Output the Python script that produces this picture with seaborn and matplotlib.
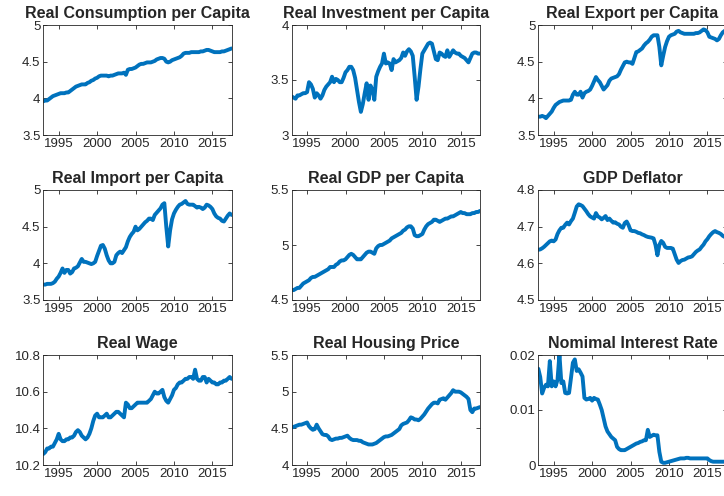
import numpy as np
import pandas as pd
import seaborn as sns
import matplotlib.pyplot as plt
from matplotlib.ticker import FuncFormatter

# quarterly observations, 1993Q1 .. 2017Q3
dates = 1993.0 + 0.25 * np.arange(99)

consumption = [
    3.96, 3.97, 3.97, 3.99, 4.01, 4.03, 4.04, 4.05, 4.06, 4.07, 4.07, 4.07,
    4.08, 4.08, 4.10, 4.12, 4.14, 4.16, 4.17, 4.18, 4.19, 4.19, 4.19, 4.21,
    4.22, 4.24, 4.25, 4.27, 4.28, 4.30, 4.31, 4.31, 4.31, 4.31, 4.30, 4.31,
    4.31, 4.32, 4.33, 4.34, 4.34, 4.34, 4.35, 4.32, 4.39, 4.40, 4.40, 4.41,
    4.42, 4.44, 4.46, 4.47, 4.47, 4.48, 4.49, 4.49, 4.49, 4.50, 4.51, 4.53,
    4.54, 4.55, 4.55, 4.54, 4.50, 4.49, 4.50, 4.52, 4.53, 4.54, 4.55, 4.56,
    4.58, 4.61, 4.62, 4.62, 4.62, 4.63, 4.63, 4.63, 4.63, 4.63, 4.64, 4.64,
    4.65, 4.66, 4.66, 4.65, 4.64, 4.63, 4.63, 4.63, 4.63, 4.64, 4.64, 4.65,
    4.66, 4.67, 4.68,
]
investment = [
    3.35, 3.34, 3.33, 3.36, 3.36, 3.37, 3.38, 3.38, 3.39, 3.48, 3.46, 3.42,
    3.34, 3.38, 3.36, 3.33, 3.36, 3.41, 3.44, 3.46, 3.48, 3.53, 3.48, 3.51,
    3.50, 3.48, 3.48, 3.52, 3.57, 3.59, 3.62, 3.62, 3.59, 3.52, 3.41, 3.30,
    3.21, 3.28, 3.38, 3.47, 3.32, 3.45, 3.41, 3.32, 3.53, 3.58, 3.62, 3.65,
    3.74, 3.65, 3.66, 3.65, 3.59, 3.69, 3.66, 3.67, 3.68, 3.70, 3.75, 3.72,
    3.76, 3.78, 3.76, 3.72, 3.53, 3.32, 3.44, 3.60, 3.74, 3.77, 3.80, 3.83,
    3.84, 3.83, 3.76, 3.69, 3.68, 3.75, 3.74, 3.72, 3.71, 3.77, 3.71, 3.74,
    3.77, 3.75, 3.74, 3.74, 3.72, 3.71, 3.70, 3.68, 3.66, 3.70, 3.74, 3.75,
    3.75, 3.74, 3.74,
]
export = [
    3.75, 3.75, 3.76, 3.75, 3.73, 3.76, 3.79, 3.82, 3.87, 3.91, 3.93, 3.95,
    3.96, 3.97, 3.97, 3.97, 3.97, 3.98, 4.05, 4.09, 4.05, 4.05, 4.09, 4.01,
    4.07, 4.09, 4.10, 4.12, 4.17, 4.23, 4.29, 4.25, 4.22, 4.17, 4.12, 4.15,
    4.18, 4.24, 4.27, 4.28, 4.29, 4.30, 4.33, 4.39, 4.44, 4.49, 4.50, 4.49,
    4.49, 4.47, 4.55, 4.63, 4.64, 4.66, 4.68, 4.72, 4.75, 4.77, 4.80, 4.84,
    4.86, 4.86, 4.86, 4.70, 4.45, 4.58, 4.70, 4.78, 4.84, 4.86, 4.87, 4.88,
    4.91, 4.92, 4.90, 4.89, 4.88, 4.88, 4.88, 4.88, 4.88, 4.88, 4.89, 4.89,
    4.90, 4.92, 4.94, 4.93, 4.90, 4.84, 4.83, 4.82, 4.81, 4.79, 4.81, 4.86,
    4.90, 4.92, 4.94,
]
imports = [
    3.71, 3.71, 3.72, 3.72, 3.72, 3.73, 3.75, 3.79, 3.82, 3.87, 3.93, 3.87,
    3.91, 3.91, 3.86, 3.88, 3.93, 3.94, 3.96, 4.01, 4.06, 4.02, 4.02, 4.01,
    4.00, 3.99, 4.00, 4.02, 4.10, 4.17, 4.24, 4.25, 4.20, 4.11, 4.04, 4.00,
    4.00, 4.02, 4.11, 4.14, 4.16, 4.14, 4.18, 4.22, 4.30, 4.36, 4.40, 4.43,
    4.50, 4.45, 4.47, 4.50, 4.53, 4.56, 4.58, 4.61, 4.61, 4.59, 4.66, 4.69,
    4.72, 4.75, 4.80, 4.82, 4.50, 4.23, 4.45, 4.60, 4.68, 4.73, 4.77, 4.80,
    4.81, 4.83, 4.85, 4.81, 4.80, 4.80, 4.80, 4.78, 4.76, 4.77, 4.76, 4.74,
    4.76, 4.80, 4.79, 4.77, 4.74, 4.68, 4.64, 4.62, 4.61, 4.58, 4.57, 4.61,
    4.65, 4.68, 4.66,
]
gdp = [
    4.59, 4.59, 4.60, 4.61, 4.61, 4.63, 4.65, 4.66, 4.67, 4.68, 4.70, 4.71,
    4.71, 4.72, 4.73, 4.74, 4.75, 4.76, 4.77, 4.78, 4.80, 4.80, 4.80, 4.82,
    4.83, 4.85, 4.86, 4.86, 4.87, 4.89, 4.91, 4.92, 4.91, 4.89, 4.87, 4.87,
    4.87, 4.89, 4.91, 4.93, 4.94, 4.94, 4.93, 4.92, 4.97, 4.99, 5.00, 5.00,
    5.01, 5.02, 5.03, 5.04, 5.06, 5.07, 5.08, 5.09, 5.10, 5.11, 5.13, 5.14,
    5.16, 5.17, 5.17, 5.15, 5.09, 5.08, 5.08, 5.09, 5.10, 5.14, 5.17, 5.19,
    5.20, 5.21, 5.23, 5.23, 5.22, 5.21, 5.22, 5.23, 5.24, 5.24, 5.25, 5.26,
    5.26, 5.27, 5.28, 5.29, 5.30, 5.29, 5.29, 5.28, 5.28, 5.28, 5.29, 5.29,
    5.30, 5.30, 5.31,
]
deflator = [
    4.637, 4.638, 4.641, 4.645, 4.650, 4.655, 4.660, 4.662, 4.660, 4.665, 4.680, 4.690,
    4.697, 4.697, 4.705, 4.711, 4.706, 4.715, 4.722, 4.738, 4.755, 4.761, 4.759, 4.756,
    4.749, 4.742, 4.734, 4.728, 4.725, 4.722, 4.737, 4.728, 4.725, 4.720, 4.724, 4.729,
    4.718, 4.722, 4.716, 4.711, 4.712, 4.708, 4.706, 4.700, 4.697, 4.710, 4.714, 4.704,
    4.690, 4.688, 4.688, 4.686, 4.683, 4.682, 4.679, 4.677, 4.674, 4.672, 4.671, 4.670,
    4.668, 4.650, 4.622, 4.650, 4.661, 4.656, 4.645, 4.642, 4.642, 4.642, 4.640, 4.625,
    4.610, 4.601, 4.606, 4.609, 4.610, 4.613, 4.616, 4.617, 4.619, 4.625, 4.631, 4.635,
    4.638, 4.645, 4.651, 4.660, 4.666, 4.674, 4.680, 4.685, 4.688, 4.685, 4.683, 4.680,
    4.675, 4.672, 4.668,
]
wage = [
    10.26, 10.27, 10.29, 10.29, 10.30, 10.30, 10.32, 10.34, 10.37, 10.34, 10.33, 10.33,
    10.34, 10.34, 10.35, 10.35, 10.36, 10.38, 10.39, 10.38, 10.36, 10.35, 10.34, 10.35,
    10.37, 10.40, 10.44, 10.47, 10.48, 10.46, 10.46, 10.46, 10.47, 10.48, 10.46, 10.46,
    10.47, 10.48, 10.49, 10.49, 10.48, 10.47, 10.46, 10.54, 10.53, 10.51, 10.51, 10.52,
    10.53, 10.54, 10.54, 10.54, 10.54, 10.54, 10.54, 10.55, 10.56, 10.58, 10.60, 10.59,
    10.59, 10.60, 10.61, 10.57, 10.55, 10.54, 10.56, 10.58, 10.61, 10.62, 10.64, 10.65,
    10.65, 10.66, 10.67, 10.67, 10.68, 10.68, 10.67, 10.72, 10.67, 10.66, 10.66, 10.68,
    10.68, 10.65, 10.67, 10.66, 10.65, 10.65, 10.64, 10.64, 10.65, 10.65, 10.66, 10.66,
    10.67, 10.68, 10.67,
]
housing = [
    4.51, 4.52, 4.53, 4.54, 4.55, 4.55, 4.56, 4.57, 4.58, 4.53, 4.50, 4.48,
    4.49, 4.55, 4.50, 4.46, 4.42, 4.41, 4.41, 4.39, 4.35, 4.34, 4.35, 4.36,
    4.36, 4.37, 4.37, 4.38, 4.39, 4.40, 4.37, 4.35, 4.34, 4.34, 4.34, 4.33,
    4.33, 4.31, 4.30, 4.29, 4.28, 4.28, 4.28, 4.29, 4.30, 4.32, 4.34, 4.36,
    4.38, 4.39, 4.39, 4.40, 4.41, 4.43, 4.45, 4.47, 4.49, 4.54, 4.56, 4.57,
    4.58, 4.61, 4.65, 4.64, 4.62, 4.62, 4.61, 4.63, 4.66, 4.69, 4.73, 4.77,
    4.80, 4.83, 4.85, 4.85, 4.84, 4.89, 4.90, 4.91, 4.89, 4.92, 4.95, 4.98,
    5.02, 5.00, 5.00, 5.00, 4.99, 4.97, 4.95, 4.93, 4.90, 4.75, 4.72, 4.77,
    4.77, 4.78, 4.79,
]
interest = [
    0.0175, 0.0160, 0.0130, 0.0140, 0.0146, 0.0143, 0.0189, 0.0143, 0.0152, 0.0143, 0.0155, 0.0201,
    0.0149, 0.0152, 0.0131, 0.0130, 0.0131, 0.0158, 0.0186, 0.0192, 0.0171, 0.0174, 0.0168, 0.0161,
    0.0122, 0.0119, 0.0120, 0.0122, 0.0117, 0.0122, 0.0120, 0.0119, 0.0110, 0.0100, 0.0085, 0.0070,
    0.0061, 0.0056, 0.0051, 0.0048, 0.0045, 0.0033, 0.0029, 0.0027, 0.0027, 0.0027, 0.0029, 0.0031,
    0.0033, 0.0035, 0.0037, 0.0039, 0.0040, 0.0042, 0.0043, 0.0045, 0.0045, 0.0064, 0.0051, 0.0053,
    0.0055, 0.0054, 0.0054, 0.0024, 0.0006, 0.0004, 0.0004, 0.0005, 0.0006, 0.0007, 0.0008, 0.0009,
    0.0010, 0.0011, 0.0012, 0.0012, 0.0012, 0.0013, 0.0013, 0.0012, 0.0012, 0.0012, 0.0012, 0.0012,
    0.0012, 0.0012, 0.0012, 0.0012, 0.0012, 0.0009, 0.0007, 0.0006, 0.0006, 0.0006, 0.0006, 0.0006,
    0.0006, 0.0006, 0.0006,
]

titles = [
    "Real Consumption per Capita", "Real Investment per Capita", "Real Export per Capita",
    "Real Import per Capita", "Real GDP per Capita", "GDP Deflator",
    "Real Wage", "Real Housing Price", "Nomimal Interest Rate",
]
series = [consumption, investment, export, imports, gdp, deflator, wage, housing, interest]
yticks = [
    [3.5, 4, 4.5, 5], [3, 3.5, 4], [3.5, 4, 4.5, 5],
    [3.5, 4, 4.5, 5], [4.5, 5, 5.5], [4.5, 4.6, 4.7, 4.8],
    [10.2, 10.4, 10.6, 10.8], [4, 4.5, 5, 5.5], [0, 0.01, 0.02],
]
xticks = [1995, 2000, 2005, 2010, 2015]

sns.set_style("ticks")
plt.rcParams["font.family"] = ["Liberation Sans", "DejaVu Sans"]
plt.rcParams.update({
    "xtick.direction": "in", "ytick.direction": "in",
    "xtick.top": True, "ytick.right": True,
    "xtick.major.size": 3, "ytick.major.size": 3,
    "xtick.major.width": 0.6, "ytick.major.width": 0.6,
    "axes.linewidth": 0.6, "axes.edgecolor": "#262626",
    "xtick.color": "#262626", "ytick.color": "#262626",
})

W, H = 724, 496
fig = plt.figure(figsize=(W / 100, H / 100), dpi=100)
lefts = [43.3, 291.7, 538.3]
bottoms = [135, 300, 465]
aw, ah = 188.3, 110

for i, (title, vals) in enumerate(zip(titles, series)):
    r, c = divmod(i, 3)
    ax = fig.add_axes([lefts[c] / W, (H - bottoms[r]) / H, aw / W, ah / H])
    df = pd.DataFrame({"date": dates, "value": vals})
    sns.lineplot(data=df, x="date", y="value", ax=ax, color="#0072BD", linewidth=2.8)
    ax.set_xlim(dates[0], dates[-1])
    ax.set_ylim(yticks[i][0], yticks[i][-1])
    ax.set_xticks(xticks)
    ax.set_yticks(yticks[i])
    ax.yaxis.set_major_formatter(FuncFormatter(lambda v, p: "%g" % v))
    ax.tick_params(labelsize=9.5, pad=2)
    ax.set_xlabel("")
    ax.set_ylabel("")
    ax.set_title(title, fontsize=11.5, fontweight="bold", pad=5)

fig.savefig("out.png", dpi=100)
